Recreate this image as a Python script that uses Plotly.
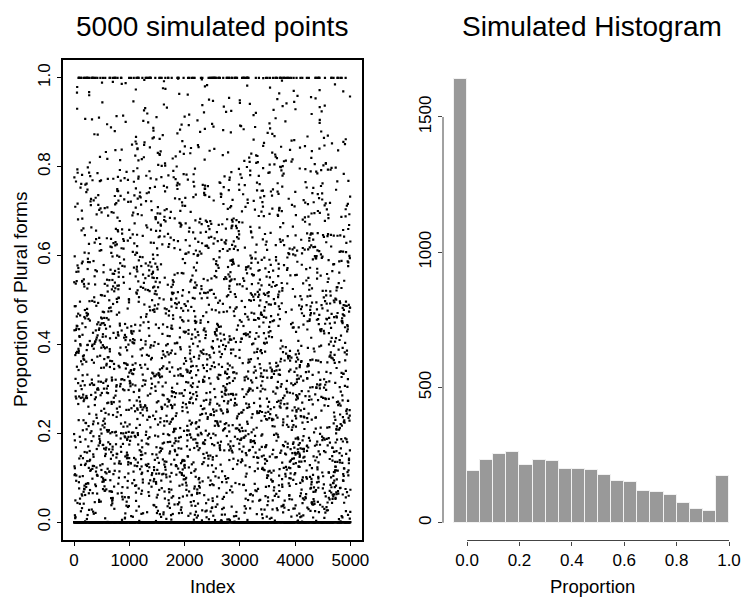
import numpy as np
import plotly.graph_objects as go

# ---- data ----
# histogram bin edges (proportion) and counts per bin
bin_edges = [-0.05, 0.0, 0.05, 0.10, 0.15, 0.20, 0.25, 0.30, 0.35, 0.40, 0.45,
             0.50, 0.55, 0.60, 0.65, 0.70, 0.75, 0.80, 0.85, 0.90, 0.95, 1.0]
bin_counts = [1642, 190, 233, 255, 260, 213, 233, 229, 200, 197, 194,
              177, 156, 151, 116, 114, 104, 72, 49, 42, 173]
ones_count = 138          # points exactly at 1.0 (part of the last bin)

scatter_xticks = [0, 1000, 2000, 3000, 4000, 5000]
scatter_yticks = [0.0, 0.2, 0.4, 0.6, 0.8, 1.0]
hist_xticks = [0.0, 0.2, 0.4, 0.6, 0.8, 1.0]
hist_yticks = [0, 500, 1000, 1500]

# ---- build the simulated points from the histogram counts ----
vals = []
for k, n in enumerate(bin_counts):
    lo, hi = bin_edges[k], bin_edges[k + 1]
    if k == 0:
        vals += [0.0] * n
    elif k == len(bin_counts) - 1:
        m = n - ones_count
        vals += [lo + (j + 0.5) / m * (hi - lo) for j in range(m)]
        vals += [1.0] * ones_count
    else:
        vals += [lo + (j + 0.5) / n * (hi - lo) for j in range(n)]
vals = np.array(vals)
N = len(vals)
# deterministic scrambling of the order along the index axis
key = np.modf(np.abs(np.sin(np.arange(N) * 12.9898 + 78.233)) * 43758.5453)[0]
idx = np.empty(N)
idx[np.argsort(key)] = np.arange(1, N + 1)

centers = [(bin_edges[i] + bin_edges[i + 1]) / 2 for i in range(len(bin_counts))]

W, H = 743, 597
FONT = "Liberation Sans, Arial, Helvetica, sans-serif"

def px_x(p):
    return p / W

def px_y(p):
    return 1 - p / H

fig = go.Figure()
fig.add_trace(go.Scatter(
    x=idx, y=vals, mode="markers",
    marker=dict(symbol="square", size=2.2, color="black", line=dict(width=0)),
    xaxis="x", yaxis="y", hoverinfo="skip"))
fig.add_trace(go.Bar(
    x=centers, y=bin_counts, width=0.05,
    marker=dict(color="#999999", line=dict(color="#f2f2f2", width=1)),
    xaxis="x2", yaxis="y2"))

tickfont = dict(family=FONT, size=17, color="black")
common = dict(showgrid=False, zeroline=False, ticks="outside", ticklen=4,
              tickwidth=1, tickcolor="black", tickfont=tickfont,
              automargin=False)

fig.update_layout(
    width=W, height=H, margin=dict(l=0, r=0, t=0, b=0, autoexpand=False),
    paper_bgcolor="white", plot_bgcolor="white", showlegend=False,
    bargap=0,
    xaxis=dict(domain=[px_x(63), px_x(361.5)], range=[-199.96, 5200.96],
               tickvals=scatter_xticks, anchor="y",
               showline=True, mirror=True, linecolor="black", linewidth=1.6,
               **common),
    yaxis=dict(domain=[px_y(540), px_y(60)], range=[-0.04, 1.04],
               tickvals=scatter_yticks,
               ticktext=["%.1f" % v for v in scatter_yticks],
               tickangle=-90, anchor="x",
               showline=True, mirror=True, linecolor="black", linewidth=1.6,
               **common),
    xaxis2=dict(domain=[px_x(443), px_x(740)], range=[-0.092, 1.042],
                tickvals=hist_xticks,
                ticktext=["%.1f" % v for v in hist_xticks],
                anchor="y2", showline=False, **common),
    yaxis2=dict(domain=[px_y(540.5), px_y(61)], range=[-65.7, 1707],
                tickvals=hist_yticks, tickangle=-90, anchor="x2",
                showline=False, **common),
)
for ax in ("xaxis2", "yaxis2"):
    fig.layout[ax].tickcolor = "#444444"

fig.add_shape(type="line", xref="x2 domain", yref="y2", x0=0, x1=0,
              y0=hist_yticks[0], y1=hist_yticks[-1],
              line=dict(color="#444444", width=1))
fig.add_shape(type="line", xref="x2", yref="y2 domain", x0=hist_xticks[0],
              x1=hist_xticks[-1], y0=0, y1=0,
              line=dict(color="#444444", width=1))

def ann(text, x, y, size, angle=0):
    fig.add_annotation(text=text, x=x, y=y, xref="paper", yref="paper",
                       showarrow=False, xanchor="center", yanchor="middle",
                       textangle=angle,
                       font=dict(family=FONT, size=size, color="black"))

ann("5000 simulated points", px_x(212), px_y(26), 28)
ann("Simulated Histogram", px_x(592), px_y(26), 28)
ann("Index", px_x(212.5), px_y(586), 18.5)
ann("Proportion", px_x(592), px_y(586), 18.5)
ann("Proportion of Plural forms", px_x(20), px_y(300), 19, angle=-90)

fig.write_html("out.html",
               config={"displayModeBar": False},
               post_script="document.body.style.margin='0px';"
                           "document.body.style.overflow='hidden';")
